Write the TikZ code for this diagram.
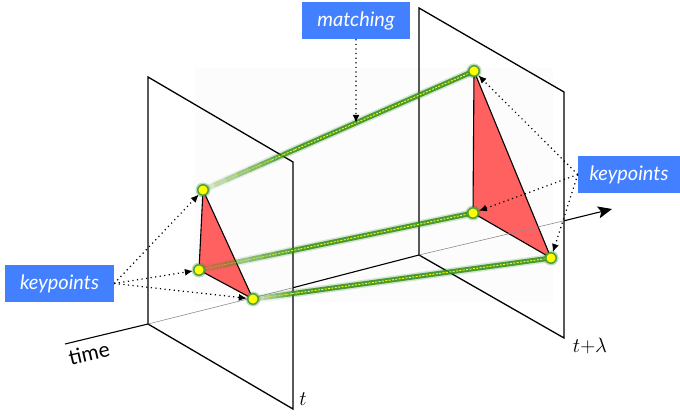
\documentclass[tikz,border=0pt]{standalone}
\usepackage{fontspec}
\newfontfamily\labfont{Lato}
\usetikzlibrary{arrows.meta,calc}
\definecolor{boxblue}{RGB}{66,128,255}
\definecolor{trired}{RGB}{255,96,96}
\definecolor{glowgreen}{RGB}{48,140,28}
\definecolor{kpyellow}{RGB}{255,255,0}
\definecolor{faintbg}{RGB}{252,252,252}
\tikzset{
  plane/.style={draw=black, line width=1.3pt, line join=miter},
  tri/.style={fill=trired, draw=black, line width=1.1pt, line join=round},
  lbl/.style={fill=boxblue, text=white, font=\labfont\itshape\fontsize{20}{22}\selectfont, minimum height=37pt, inner sep=0pt},
  kp/.style={circle, minimum size=12pt, inner sep=0pt},
  ptr/.style={line width=1.2pt, dash pattern=on 1.2pt off 3.4pt, -{Latex[length=8pt,width=7pt]}},
  axisblack/.style={line width=1.1pt, black},
  axisgray/.style={line width=0.6pt, black!45},
}
\newcommand\glowseg[3]{% from, to, opacity
  \draw[line width=8pt, glowgreen, opacity=0.2*#3] (#1) -- (#2);
  \draw[line width=5pt, glowgreen, opacity=0.85*#3] (#1) -- (#2);
  \draw[line width=0.9pt, kpyellow, opacity=#3, dash pattern=on 2pt off 1.4pt] (#1) -- (#2);
}
\newcommand\matchline[3]{% start, end, fade fraction
  \foreach \i in {0,...,7}{%
    \pgfmathsetmacro\ta{\i/8*#3}%
    \pgfmathsetmacro\tb{(\i+1)/8*#3}%
    \pgfmathsetmacro\op{0.15+0.85*(\i+0.5)/8}%
    \coordinate (s1) at ($(#1)!\ta!(#2)$);
    \coordinate (s2) at ($(#1)!\tb!(#2)$);
    \glowseg{s1}{s2}{\op}
  }
  \coordinate (s3) at ($(#1)!#3!(#2)$);
  \glowseg{s3}{#2}{1}
}
\begin{document}
\begin{tikzpicture}[x=1pt,y=-1pt]
\useasboundingbox (0,0) rectangle (680,417);
% faint background
\fill[faintbg] (194,68) rectangle (553,302);
% planes
\coordinate (L1) at (148,77);
\coordinate (L2) at (293,162);
\coordinate (L3) at (293,409);
\coordinate (L4) at (148,324);
\coordinate (R1) at (419,8);
\coordinate (R2) at (564,92);
\coordinate (R3) at (564,338);
\coordinate (R4) at (419,255);
\draw[plane] (L1) -- (L2) -- (L3) -- (L4) -- cycle;
\draw[plane] (R1) -- (R2) -- (R3) -- (R4) -- cycle;
% keypoints
\node[kp] (A) at (203,190) {};
\node[kp] (B) at (199,270) {};
\node[kp] (C) at (253,299) {};
\node[kp] (D) at (474,71) {};
\node[kp] (E) at (473,213) {};
\node[kp] (F) at (551,258) {};
% triangles
\draw[tri] (A.center) -- (B.center) -- (C.center) -- cycle;
\draw[tri] (D.center) -- (E.center) -- (F.center) -- cycle;
% time axis
\coordinate (T0) at (65,344);
\coordinate (Tx1) at (293,287.7);
\coordinate (Tx2) at (564,220.8);
\coordinate (T5) at (612,209);
\draw[axisblack] (T0) -- (L4);
\draw[axisgray] (L4) -- (Tx1);
\draw[axisblack] (Tx1) -- (R4);
\draw[axisgray] (R4) -- (Tx2);
\draw[axisblack, -{Stealth[length=14pt,width=12pt,inset=3pt]}] (Tx2) -- (T5);
% matching lines
\matchline{A.center}{D.center}{0.34}
\matchline{B.center}{E.center}{0.37}
\matchline{C.center}{F.center}{0.15}
% keypoint dots
\foreach \k in {A,B,C,D,E,F}{
  \fill[glowgreen, opacity=0.3] (\k.center) circle (7.5pt);
  \fill[glowgreen!85] (\k.center) circle (6pt);
  \fill[kpyellow] (\k.center) circle (4.5pt);
}
% labels
\node[lbl, minimum width=108pt] (km) at (356,20.5) {matching};
\node[lbl, minimum width=109pt] (kl) at (59.5,283.5) {keypoints};
\node[lbl, minimum width=102pt] (kr) at (629,174.5) {keypoints};
% pointers
\coordinate (mt) at ($(A.center)!0.5646!(D.center)$);
\draw[ptr] (km.south) -- (mt);
\draw[ptr] (kl.east) -- (A);
\draw[ptr] (kl.east) -- (B);
\draw[ptr] (kl.east) -- (C);
\draw[ptr] (kr.west) -- (D);
\draw[ptr] (kr.west) -- (E);
\draw[ptr] (kr.west) -- (F);
% texts
\node[rotate=13, font=\labfont\fontsize{21}{23}\selectfont] (tm) at (89,353) {time};
\node[font=\fontsize{21}{23}\selectfont] (tl) at (303,399) {$t$};
\node[font=\fontsize{21}{23}\selectfont] (tl2) at (590,346) {$t{+}\lambda$};
\end{tikzpicture}
\end{document}
